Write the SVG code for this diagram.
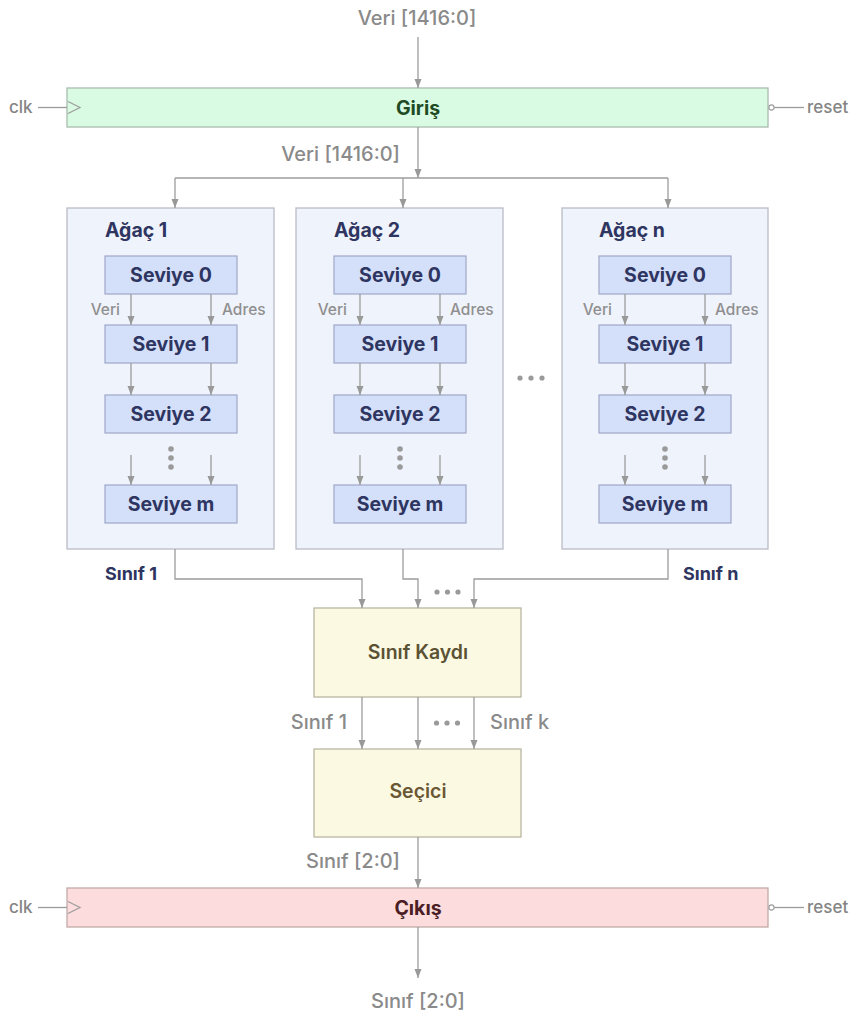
<svg xmlns="http://www.w3.org/2000/svg" width="851" height="1014" viewBox="0 0 851 1014">
  <defs>
    <marker id="arrow" markerWidth="9" markerHeight="8" refX="9" refY="4" orient="auto" markerUnits="userSpaceOnUse">
      <path d="M0,0.5 L9,4 L0,7.5 z" fill="#999"/>
    </marker>
    <style>
      .wire { stroke: #9c9c9c; stroke-width: 1.3; fill: none; }
      .arr { marker-end: url(#arrow); }
      .txt { font-family: Inter, "Noto Sans", "Liberation Sans", sans-serif; }
      .lbl { font-weight: 500; fill: #8a8a8a; font-size: 20px; }
      .sig { font-weight: 500; fill: #858585; font-size: 17px; }
      .small { font-weight: 500; fill: #8f8f8f; font-size: 15.5px; }
      .navy { font-weight: 700; fill: #2e3561; }
      .title { font-size: 19.5px; }
      .lv { font-size: 19.5px; text-anchor: middle; }
      .reg-in { fill: #d9fbe3; stroke: #a9bcae; stroke-width: 1.3; }
      .reg-out { fill: #fcdcdc; stroke: #c2aaaa; stroke-width: 1.3; }
      .tree { fill: #eff3fc; stroke: #b9bcc4; stroke-width: 1.3; }
      .lvl { fill: #d4dffa; stroke: #9ea8c7; stroke-width: 1.2; }
      .blk { fill: #fcf9e3; stroke: #b9b5a2; stroke-width: 1.3; }
      .dot { fill: #9a9a9a; }
      .clk { fill: none; stroke: #9c9c9c; stroke-width: 1.2; }
    </style>
  </defs>

  <rect x="0" y="0" width="851" height="1014" fill="#ffffff"/>

  <!-- input register -->
  <g id="giris">
    <rect class="reg-in" x="67" y="88" width="701" height="39"/>
    <polyline class="clk" points="68,101.5 80,107.5 68,113.5"/>
    <circle cx="771.5" cy="107.5" r="2.6" fill="#ffffff" stroke="#9c9c9c" stroke-width="1.1"/>
    <text class="txt" x="418" y="114.5" text-anchor="middle" font-size="19.5" font-weight="700" fill="#1e4a24">Giriş</text>
  </g>

  <!-- tree 1 -->
  <g id="tree1">
    <rect class="tree" x="67" y="208" width="207" height="341"/>
    <text class="txt navy title" x="105" y="237">Ağaç 1</text>
    <rect class="lvl" x="105" y="256" width="132" height="38"/>
    <text class="txt navy lv" x="171" y="282">Seviye 0</text>
    <rect class="lvl" x="105" y="325" width="132" height="38"/>
    <text class="txt navy lv" x="171" y="351">Seviye 1</text>
    <rect class="lvl" x="105" y="395" width="132" height="38"/>
    <text class="txt navy lv" x="171" y="421">Seviye 2</text>
    <rect class="lvl" x="105" y="485" width="132" height="38"/>
    <text class="txt navy lv" x="171" y="511">Seviye m</text>
    <text class="txt small" x="120" y="315" text-anchor="end">Veri</text>
    <text class="txt small" x="222" y="315">Adres</text>
    <circle class="dot" cx="171" cy="449" r="2.8"/>
    <circle class="dot" cx="171" cy="458" r="2.8"/>
    <circle class="dot" cx="171" cy="467" r="2.8"/>
  </g>

  <!-- tree 2 -->
  <g id="tree2">
    <rect class="tree" x="296" y="208" width="207" height="341"/>
    <text class="txt navy title" x="334" y="237">Ağaç 2</text>
    <rect class="lvl" x="334" y="256" width="132" height="38"/>
    <text class="txt navy lv" x="400" y="282">Seviye 0</text>
    <rect class="lvl" x="334" y="325" width="132" height="38"/>
    <text class="txt navy lv" x="400" y="351">Seviye 1</text>
    <rect class="lvl" x="334" y="395" width="132" height="38"/>
    <text class="txt navy lv" x="400" y="421">Seviye 2</text>
    <rect class="lvl" x="334" y="485" width="132" height="38"/>
    <text class="txt navy lv" x="400" y="511">Seviye m</text>
    <text class="txt small" x="347" y="315" text-anchor="end">Veri</text>
    <text class="txt small" x="450" y="315">Adres</text>
    <circle class="dot" cx="400" cy="449" r="2.8"/>
    <circle class="dot" cx="400" cy="458" r="2.8"/>
    <circle class="dot" cx="400" cy="467" r="2.8"/>
  </g>

  <!-- ellipsis between trees -->
  <g id="tree-ellipsis">
    <circle class="dot" cx="520" cy="378" r="2.6"/>
    <circle class="dot" cx="531" cy="378" r="2.6"/>
    <circle class="dot" cx="542" cy="378" r="2.6"/>
  </g>

  <!-- tree n -->
  <g id="treen">
    <rect class="tree" x="562" y="208" width="206" height="341"/>
    <text class="txt navy title" x="599" y="237">Ağaç n</text>
    <rect class="lvl" x="599" y="256" width="132" height="38"/>
    <text class="txt navy lv" x="665" y="282">Seviye 0</text>
    <rect class="lvl" x="599" y="325" width="132" height="38"/>
    <text class="txt navy lv" x="665" y="351">Seviye 1</text>
    <rect class="lvl" x="599" y="395" width="132" height="38"/>
    <text class="txt navy lv" x="665" y="421">Seviye 2</text>
    <rect class="lvl" x="599" y="485" width="132" height="38"/>
    <text class="txt navy lv" x="665" y="511">Seviye m</text>
    <text class="txt small" x="612" y="315" text-anchor="end">Veri</text>
    <text class="txt small" x="715" y="315">Adres</text>
    <circle class="dot" cx="665" cy="449" r="2.8"/>
    <circle class="dot" cx="665" cy="458" r="2.8"/>
    <circle class="dot" cx="665" cy="467" r="2.8"/>
  </g>

  <!-- class register -->
  <g id="sinif-kaydi">
    <rect class="blk" x="314" y="608" width="207" height="89"/>
    <text class="txt" x="418" y="659" text-anchor="middle" font-size="19.5" font-weight="600" fill="#5b5233">Sınıf Kaydı</text>
  </g>

  <!-- selector -->
  <g id="secici">
    <rect class="blk" x="314" y="749" width="207" height="88"/>
    <text class="txt" x="418" y="798" text-anchor="middle" font-size="19.5" font-weight="600" fill="#6a5733">Seçici</text>
  </g>

  <!-- output register -->
  <g id="cikis">
    <rect class="reg-out" x="67" y="888" width="701" height="39"/>
    <polyline class="clk" points="68,901.5 80,907.5 68,913.5"/>
    <circle cx="771.5" cy="907.5" r="2.6" fill="#ffffff" stroke="#9c9c9c" stroke-width="1.1"/>
    <text class="txt" x="418" y="914.5" text-anchor="middle" font-size="19.5" font-weight="700" fill="#4b1d24">Çıkış</text>
  </g>

  <!-- connectors -->
  <g id="connectors">
    <!-- input bus -->
    <line class="wire arr" x1="418" y1="37" x2="418" y2="88"/>
    <line class="wire arr" x1="418" y1="127" x2="418" y2="178"/>
    <line class="wire" x1="175" y1="178" x2="668" y2="178"/>
    <line class="wire arr" x1="175" y1="178" x2="175" y2="208"/>
    <line class="wire arr" x1="403" y1="178" x2="403" y2="208"/>
    <line class="wire arr" x1="668" y1="178" x2="668" y2="208"/>

    <!-- clock / reset pins -->
    <line class="wire" x1="38" y1="107.5" x2="67" y2="107.5"/>
    <line class="wire" x1="774.1" y1="107.5" x2="804" y2="107.5"/>
    <line class="wire" x1="38" y1="907.5" x2="67" y2="907.5"/>
    <line class="wire" x1="774.1" y1="907.5" x2="804" y2="907.5"/>

    <!-- tree level links -->
    <g id="links-tree1">
      <line class="wire arr" x1="131" y1="294" x2="131" y2="325"/>
      <line class="wire arr" x1="211" y1="294" x2="211" y2="325"/>
      <line class="wire arr" x1="131" y1="363" x2="131" y2="395"/>
      <line class="wire arr" x1="211" y1="363" x2="211" y2="395"/>
      <line class="wire arr" x1="131" y1="455" x2="131" y2="485"/>
      <line class="wire arr" x1="211" y1="455" x2="211" y2="485"/>
    </g>
    <g id="links-tree2">
      <line class="wire arr" x1="360" y1="294" x2="360" y2="325"/>
      <line class="wire arr" x1="440" y1="294" x2="440" y2="325"/>
      <line class="wire arr" x1="360" y1="363" x2="360" y2="395"/>
      <line class="wire arr" x1="440" y1="363" x2="440" y2="395"/>
      <line class="wire arr" x1="360" y1="455" x2="360" y2="485"/>
      <line class="wire arr" x1="440" y1="455" x2="440" y2="485"/>
    </g>
    <g id="links-treen">
      <line class="wire arr" x1="625" y1="294" x2="625" y2="325"/>
      <line class="wire arr" x1="705" y1="294" x2="705" y2="325"/>
      <line class="wire arr" x1="625" y1="363" x2="625" y2="395"/>
      <line class="wire arr" x1="705" y1="363" x2="705" y2="395"/>
      <line class="wire arr" x1="625" y1="455" x2="625" y2="485"/>
      <line class="wire arr" x1="705" y1="455" x2="705" y2="485"/>
    </g>

    <!-- class outputs into the class register -->
    <polyline class="wire arr" points="175,549 175,579 362,579 362,608"/>
    <polyline class="wire arr" points="403,549 403,579 418,579 418,608"/>
    <polyline class="wire arr" points="668,549 668,579 474,579 474,608"/>

    <!-- register to selector -->
    <line class="wire arr" x1="362" y1="697" x2="362" y2="749"/>
    <line class="wire arr" x1="418" y1="697" x2="418" y2="749"/>
    <line class="wire arr" x1="474" y1="697" x2="474" y2="749"/>

    <!-- selector to output register, and output -->
    <line class="wire arr" x1="418" y1="837" x2="418" y2="888"/>
    <line class="wire arr" x1="418" y1="927" x2="418" y2="978"/>
  </g>

  <!-- signal labels -->
  <g id="labels">
    <text class="txt lbl" x="417" y="25" text-anchor="middle">Veri [1416:0]</text>
    <text class="txt lbl" x="400" y="161" text-anchor="end">Veri [1416:0]</text>
    <text class="txt sig" x="9" y="113">clk</text>
    <text class="txt sig" x="807" y="113">reset</text>
    <text class="txt sig" x="9" y="913">clk</text>
    <text class="txt sig" x="807" y="913">reset</text>

    <text class="txt navy" x="105" y="580" font-size="18">Sınıf 1</text>
    <text class="txt navy" x="683" y="580" font-size="18">Sınıf n</text>
    <circle class="dot" cx="437" cy="592" r="2.6"/>
    <circle class="dot" cx="447.5" cy="592" r="2.6"/>
    <circle class="dot" cx="458" cy="592" r="2.6"/>

    <text class="txt lbl" x="347" y="729" text-anchor="end" font-size="18.5">Sınıf 1</text>
    <text class="txt lbl" x="490" y="729" font-size="18.5">Sınıf k</text>
    <circle class="dot" cx="436.5" cy="723" r="2.6"/>
    <circle class="dot" cx="447" cy="723" r="2.6"/>
    <circle class="dot" cx="457.5" cy="723" r="2.6"/>

    <text class="txt lbl" x="400" y="868" text-anchor="end">Sınıf [2:0]</text>
    <text class="txt lbl" x="418" y="1008" text-anchor="middle">Sınıf [2:0]</text>
  </g>
</svg>
